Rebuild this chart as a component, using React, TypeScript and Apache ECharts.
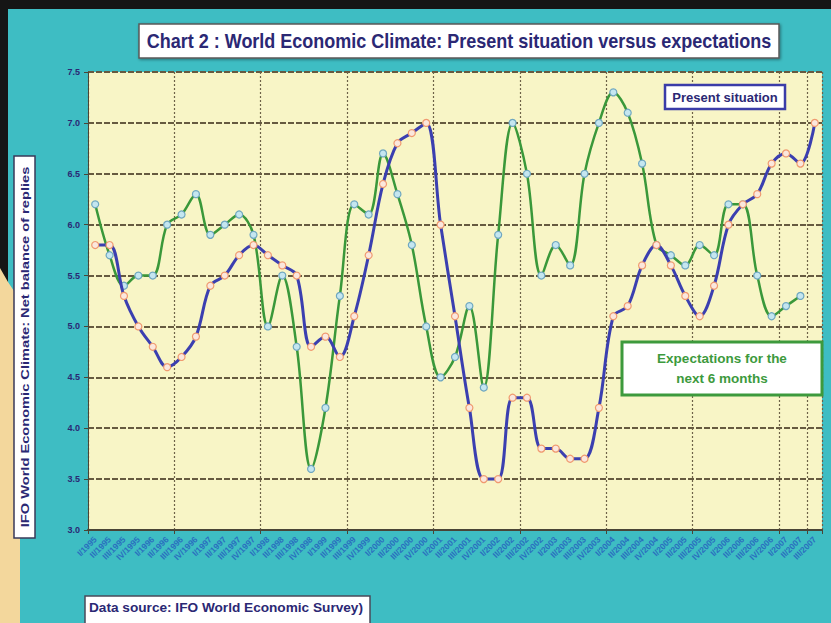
import React, { useEffect, useRef } from "react";
import * as echarts from "echarts";

const categories = [
  "I/1995","II/1995","III/1995","IV/1995","I/1996","II/1996","III/1996","IV/1996",
  "I/1997","II/1997","III/1997","IV/1997","I/1998","II/1998","III/1998","IV/1998",
  "I/1999","II/1999","III/1999","IV/1999","I/2000","II/2000","III/2000","IV/2000",
  "I/2001","II/2001","III/2001","IV/2001","I/2002","II/2002","III/2002","IV/2002",
  "I/2003","II/2003","III/2003","IV/2003","I/2004","II/2004","III/2004","IV/2004",
  "I/2005","II/2005","III/2005","IV/2005","I/2006","II/2006","III/2006","IV/2006",
  "I/2007","II/2007","III/2007"
];

const presentSituation = [
  5.8, 5.8, 5.3, 5.0, 4.8, 4.6, 4.7, 4.9, 5.4, 5.5, 5.7,
  5.8, 5.7, 5.6, 5.5, 4.8, 4.9, 4.7, 5.1, 5.7, 6.4,
  6.8, 6.9, 7.0, 6.0, 5.1, 4.2, 3.5, 3.5, 4.3, 4.3,
  3.8, 3.8, 3.7, 3.7, 4.2, 5.1, 5.2, 5.6, 5.8, 5.6,
  5.3, 5.1, 5.4, 6.0, 6.2, 6.3, 6.6, 6.7, 6.6, 7.0
];

const expectations = [
  6.2, 5.7, 5.4, 5.5, 5.5, 6.0, 6.1, 6.3, 5.9, 6.0, 6.1,
  5.9, 5.0, 5.5, 4.8, 3.6, 4.2, 5.3, 6.2, 6.1, 6.7,
  6.3, 5.8, 5.0, 4.5, 4.7, 5.2, 4.4, 5.9, 7.0, 6.5,
  5.5, 5.8, 5.6, 6.5, 7.0, 7.3, 7.1, 6.6, 5.8, 5.7,
  5.6, 5.8, 5.7, 6.2, 6.2, 5.5, 5.1, 5.2, 5.3, null
];

const titleText = "Chart 2 : World Economic Climate: Present situation versus expectations";
const yAxisTitle = "IFO World Economic Climate: Net balance of replies";
const presentLabel = "Present situation";
const expectLabel = "Expectations for the\nnext 6 months";
const sourceText = "Data source: IFO World Economic Survey)";

const NAVY = "#2b2874";
const FONT = "'Liberation Sans', Arial, sans-serif";

export default function App() {
  const ref = useRef<HTMLDivElement>(null);
  useEffect(() => {
    if (!ref.current) return;
    const chart = echarts.init(ref.current, null, { renderer: "svg" });
    chart.setOption({
      animation: false,
      backgroundColor: "#3ebdc3",
      grid: {
        left: 88,
        right: 9,
        top: 72,
        bottom: 93,
        show: true,
        backgroundColor: "#f8f5c6",
        borderWidth: 0,
      },
      xAxis: {
        type: "category",
        data: categories,
        boundaryGap: true,
        axisLine: { show: true, lineStyle: { color: "#4a4536", width: 2 } },
        axisTick: { show: true, interval: 5, length: 4, lineStyle: { color: "#4a4536" } },
        axisLabel: {
          interval: 0,
          rotate: 45,
          fontSize: 8.5,
          fontWeight: "bold",
          color: "#2a6fbf",
          fontFamily: FONT,
          margin: 8,
        },
        splitLine: {
          show: true,
          interval: 5,
          lineStyle: { color: "#6e6248", width: 1.2, type: [2, 2] },
        },
      },
      yAxis: {
        type: "value",
        min: 3.0,
        max: 7.5,
        interval: 0.5,
        axisLine: { show: true, lineStyle: { color: "#4a4536", width: 1 } },
        axisTick: { show: true, length: 4, lineStyle: { color: "#4a4536" } },
        axisLabel: {
          formatter: (v: number) => v.toFixed(1),
          fontSize: 9,
          fontWeight: "bold",
          color: NAVY,
          fontFamily: FONT,
          margin: 8,
        },
        splitLine: {
          show: true,
          lineStyle: { color: "#665a40", width: 2, type: [6, 2] },
        },
      },
      series: [
        {
          name: "Expectations",
          type: "line",
          data: expectations,
          smooth: 0.35,
          symbol: "circle",
          symbolSize: 7,
          lineStyle: { color: "#3a983a", width: 2.5 },
          itemStyle: { color: "#c4e6f0", borderColor: "#6fa7c0", borderWidth: 1.2 },
          z: 3,
        },
        {
          name: "Present situation",
          type: "line",
          data: presentSituation,
          smooth: 0.35,
          symbol: "circle",
          symbolSize: 7,
          lineStyle: { color: "#3b3fb0", width: 3 },
          itemStyle: { color: "#fbe7dc", borderColor: "#f09a70", borderWidth: 1.2 },
          z: 4,
        },
      ],
      graphic: [
        { type: "rect", shape: { x: 0, y: 0, width: 831, height: 9 }, style: { fill: "#151515" }, z: 98 },
        { type: "rect", shape: { x: 0, y: 0, width: 8, height: 623 }, style: { fill: "#151515" }, z: 98 },
        {
          type: "polygon",
          shape: { points: [[0, 268], [8, 282], [20, 300], [20, 623], [0, 623]] },
          style: { fill: "#f3d79c" },
          z: 99,
        },
        {
          type: "rect",
          shape: { x: 139, y: 24, width: 640, height: 34 },
          style: { fill: "#ffffff", stroke: "#5a5a5a", lineWidth: 1.5, shadowBlur: 3, shadowColor: "rgba(0,0,0,0.4)", shadowOffsetX: 1, shadowOffsetY: 1 },
          z: 100,
        },
        {
          type: "text",
          x: 459,
          y: 41,
          scaleX: 0.9,
          style: { text: titleText, fill: NAVY, font: `bold 20px ${FONT}`, align: "center", verticalAlign: "middle" },
          z: 101,
        },
        {
          type: "rect",
          shape: { x: 14, y: 156, width: 21, height: 382 },
          style: { fill: "#ffffff", stroke: "#3a3a5a", lineWidth: 1.5 },
          z: 100,
        },
        {
          type: "text",
          x: 25,
          y: 347,
          rotation: Math.PI / 2,
          scaleX: 1.33,
          style: { text: yAxisTitle, fill: NAVY, font: `bold 11px ${FONT}`, align: "center", verticalAlign: "middle" },
          z: 101,
        },
        {
          type: "rect",
          shape: { x: 665, y: 85, width: 120, height: 24 },
          style: { fill: "#ffffff", stroke: "#3a3ca8", lineWidth: 2.5 },
          z: 100,
        },
        {
          type: "text",
          x: 725,
          y: 97,
          style: { text: presentLabel, fill: NAVY, font: `bold 13px ${FONT}`, align: "center", verticalAlign: "middle" },
          z: 101,
        },
        {
          type: "rect",
          shape: { x: 622, y: 342, width: 200, height: 53 },
          style: { fill: "#ffffff", stroke: "#3d9a3d", lineWidth: 3 },
          z: 100,
        },
        {
          type: "text",
          x: 722,
          y: 368,
          style: { text: expectLabel, fill: "#3d9a3d", font: `bold 13.5px ${FONT}`, align: "center", verticalAlign: "middle", lineHeight: 20 },
          z: 101,
        },
        {
          type: "rect",
          shape: { x: 85, y: 596, width: 285, height: 32 },
          style: { fill: "#ffffff", stroke: "#4a4a5a", lineWidth: 1.5 },
          z: 100,
        },
        {
          type: "text",
          x: 89,
          y: 608,
          scaleX: 1.05,
          style: { text: sourceText, fill: NAVY, font: `bold 13px ${FONT}`, align: "left", verticalAlign: "middle" },
          z: 101,
        },
      ],
    });
    return () => chart.dispose();
  }, []);
  return (
    <div
      ref={ref}
      style={{ position: "fixed", left: 0, top: 0, width: 831, height: 623 }}
    />
  );
}
